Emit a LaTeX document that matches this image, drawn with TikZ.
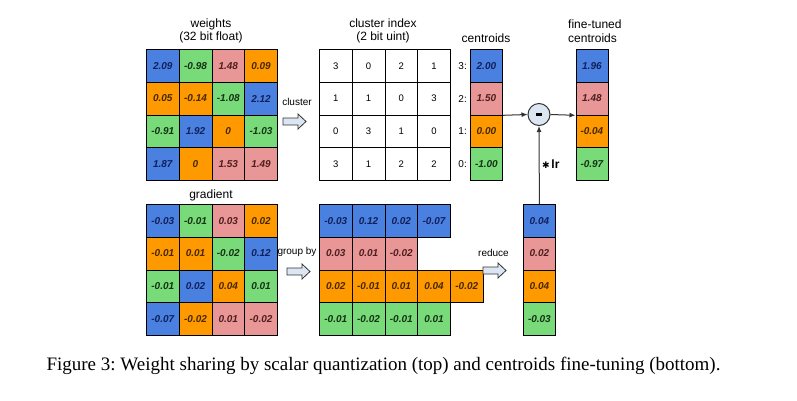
\documentclass[tikz,border=0pt]{standalone}
\usepackage{fontspec}
\setmainfont{Liberation Serif}
\setsansfont{Liberation Sans}
\newfontfamily\symf{DejaVu Sans}
\usetikzlibrary{arrows.meta}
\definecolor{cB}{RGB}{74,128,224}
\definecolor{cG}{RGB}{120,218,120}
\definecolor{cP}{RGB}{232,150,150}
\definecolor{cO}{RGB}{255,153,0}
\definecolor{tB}{RGB}{16,32,90}
\definecolor{tG}{RGB}{20,50,20}
\definecolor{tP}{RGB}{80,30,30}
\definecolor{tO}{RGB}{70,40,0}
\definecolor{afill}{RGB}{220,230,242}
\definecolor{lineg}{RGB}{50,50,50}
\tikzset{
  cell/.style={draw=black, line width=0.8pt, minimum width=32.75pt, minimum height=32.75pt,
    anchor=north west, inner sep=0pt, font=\sffamily\bfseries\itshape\fontsize{10}{11}\selectfont},
  idx/.style={cell, fill=white, font=\sffamily\fontsize{9.5}{10}\selectfont},
  title/.style={font=\sffamily\fontsize{12}{13.5}\selectfont, align=center, inner sep=0pt},
  lab/.style={font=\sffamily\fontsize{10}{12}\selectfont, inner sep=0pt},
  barrow/.pic={\draw[draw=lineg, fill=afill, line width=0.8pt, line join=miter]
     (-11.5,-3.5) -- (3.5,-3.5) -- (3.5,-7.5) -- (11.5,0) -- (3.5,7.5) -- (3.5,3.5) -- (-11.5,3.5) -- cycle;},
  conn/.style={draw=lineg, line width=1pt, -{Latex[length=6pt,width=5pt]}}
}
\begin{document}
\begin{tikzpicture}[x=1pt,y=-1pt]
\useasboundingbox (0,0) rectangle (797,400);
% titles
\node[title] (tw) at (211,31) {weights\\(32 bit float)};
\node[title] (tci) at (383,31) {cluster index\\(2 bit uint)};
\node[title] (tce) at (486,38) {centroids};
\node[title, align=left, anchor=west] (tft) at (568,31) {fine-tuned\\centroids};
\node[title] (tg) at (211,195) {gradient};
% weights
\foreach \row [count=\r] in {{2.09/B,-0.98/G,1.48/P,0.09/O},{0.05/O,-0.14/O,-1.08/G,2.12/B},{-0.91/G,1.92/B,0/O,-1.03/G},{1.87/B,0/O,1.53/P,1.49/P}}{
  \foreach \v/\c [count=\i] in \row {
    \node[cell, fill=c\c, text=t\c] (w\r\i) at ({146+(\i-1)*32.75},{49+(\r-1)*32.75}) {\v};
  }
}
% cluster index
\foreach \row [count=\r] in {{3,0,2,1},{1,1,0,3},{0,3,1,0},{3,1,2,2}}{
  \foreach \v [count=\i] in \row {
    \node[idx] (ci\r\i) at ({319+(\i-1)*32.75},{49+(\r-1)*32.75}) {\v};
  }
}
% centroids
\foreach \k/\v/\c [count=\i] in {3/2.00/B,2/1.50/P,1/0.00/O,0/-1.00/G}{
  \node[cell, fill=c\c, text=t\c, minimum width=32pt] (ce\i) at (470,{49+(\i-1)*32.75}) {\v};
  \node[lab, anchor=east] (cl\i) at ([xshift=-3pt]ce\i.west) {\k:};
}
% fine-tuned centroids
\foreach \v/\c [count=\i] in {1.96/B,1.48/P,-0.04/O,-0.97/G}{
  \node[cell, fill=c\c, text=t\c, minimum width=32pt] (ft\i) at (575.5,{49+(\i-1)*32.75}) {\v};
}
% gradient
\foreach \row [count=\r] in {{-0.03/B,-0.01/G,0.03/P,0.02/O},{-0.01/O,0.01/O,-0.02/G,0.12/B},{-0.01/G,0.02/B,0.04/O,0.01/G},{-0.07/B,-0.02/O,0.01/P,-0.02/P}}{
  \foreach \v/\c [count=\i] in \row {
    \node[cell, fill=c\c, text=t\c] (g\r\i) at ({146+(\i-1)*32.75},{204+(\r-1)*32.75}) {\v};
  }
}
% grouped
\foreach \row/\c [count=\r] in {{-0.03,0.12,0.02,-0.07}/B,{0.03,0.01,-0.02}/P,{0.02,-0.01,0.01,0.04,-0.02}/O,{-0.01,-0.02,-0.01,0.01}/G}{
  \foreach \v [count=\i] in \row {
    \node[cell, fill=c\c, text=t\c] (gr\r\i) at ({319+(\i-1)*32.75},{204+(\r-1)*32.75}) {\v};
  }
}
% reduced
\foreach \v/\c [count=\i] in {0.04/B,0.02/P,0.04/O,-0.03/G}{
  \node[cell, fill=c\c, text=t\c, minimum width=32pt] (rd\i) at (523,{204+(\i-1)*32.75}) {\v};
}
% block arrows and labels
\node[lab] (lcl) at (297,102) {cluster};
\pic at (294.5,121.5) {barrow};
\node[lab] (lgb) at (297,252) {group by};
\pic at (298.5,271.5) {barrow};
\node[lab] (lrd) at (493.5,253) {reduce};
\pic at (494.5,270.5) {barrow};
% subtraction
\node[circle, draw=lineg, fill=afill, line width=1pt, minimum size=22pt, inner sep=0pt] (minus) at (539,114.5) {\rule{5.5pt}{2.5pt}};
\draw[conn] (ce2.south east) -- (minus.west);
\draw[conn] (minus.east) -- (ft2.south west);
\draw[conn] (rd1.north) -- (minus.south);
\node[anchor=west, inner sep=0pt] (llr) at (542,164) {{\symf\bfseries\fontsize{9}{10}\selectfont ✱}\,{\sffamily\bfseries\fontsize{12}{13}\selectfont lr}};
% caption
\node[font=\fontsize{19}{22}\selectfont] (cap) at (383.5,366) {\frenchspacing Figure 3: Weight sharing by scalar quantization (top) and centroids fine-tuning (bottom).};
\end{tikzpicture}
\end{document}
